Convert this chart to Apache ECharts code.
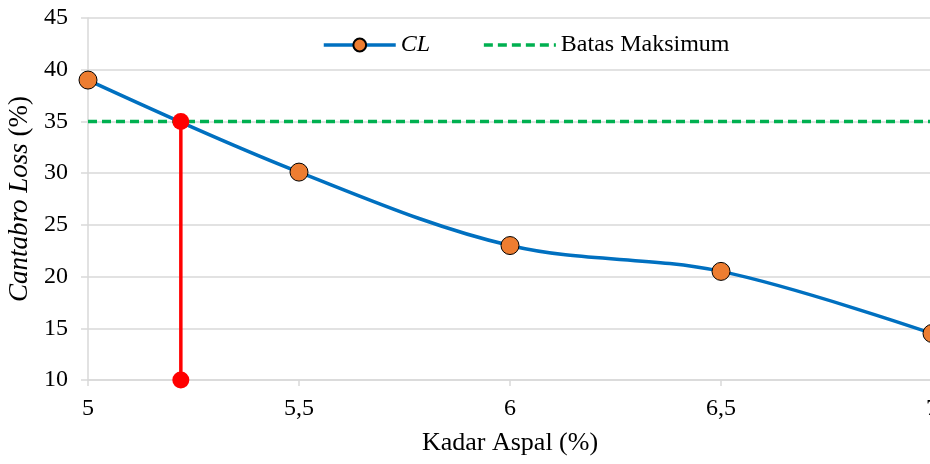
<!DOCTYPE html>
<html>
<head>
<meta charset="utf-8">
<script src="https://cdn.jsdelivr.net/npm/echarts@6/dist/echarts.min.js"></script>
<style>
  html, body { margin: 0; padding: 0; background: #fff; }
  #chart { width: 930px; height: 464px; }
</style>
</head>
<body>
<div id="chart"></div>
<script>
// Asphalt content (%) and measured Cantabro Loss (%)
const kadarAspal = [5, 5.5, 6, 6.5, 7];
const cantabroLoss = [39, 30.1, 23, 20.5, 14.5];
// Maximum allowed loss
const batasMaksimum = 35;
// Asphalt content where the curve crosses the limit
const kadarBatas = 5.22;
const yMin = 10;

const serif = '"Liberation Serif", "Times New Roman", serif';

const chart = echarts.init(document.getElementById('chart'));
chart.setOption({
  animation: false,
  backgroundColor: '#ffffff',
  textStyle: { fontFamily: serif },
  grid: { left: 88, right: -2, top: 18, bottom: 84, outerBoundsMode: 'none', containLabel: false },
  legend: {
    top: 28,
    left: 317,
    itemGap: 52,
    itemWidth: 72,
    itemHeight: 16,
    textStyle: { fontFamily: serif, fontSize: 24, color: '#000' },
    data: [
      { name: 'CL', textStyle: { fontStyle: 'italic' }, lineStyle: { width: 3.5 } },
      { name: 'Batas Maksimum', itemStyle: { opacity: 0 }, lineStyle: { width: 3.5 } }
    ]
  },
  xAxis: {
    type: 'value',
    min: 5, max: 7, interval: 0.5,
    name: 'Kadar Aspal (%)',
    nameLocation: 'middle',
    nameGap: 50,
    nameTextStyle: { fontFamily: serif, fontSize: 26, color: '#000' },
    axisLine: { show: true, lineStyle: { color: '#D9D9D9', width: 1.5 } },
    axisTick: { show: true, length: 6, lineStyle: { color: '#D9D9D9', width: 1.5 } },
    splitLine: { show: false },
    axisLabel: {
      fontFamily: serif, fontSize: 24, color: '#000', margin: 17,
      formatter: v => String(v).replace('.', ',')
    }
  },
  yAxis: {
    type: 'value',
    min: 10, max: 45, interval: 5,
    name: '{i|Cantabro Loss\u00a0}{n|(%)}',
    nameLocation: 'middle',
    nameGap: 40,
    nameRotate: 90,
    nameTextStyle: {
      rich: {
        i: { fontFamily: serif, fontSize: 27, fontStyle: 'italic', color: '#000' },
        n: { fontFamily: serif, fontSize: 27, color: '#000' }
      }
    },
    axisLine: { show: true, lineStyle: { color: '#D9D9D9', width: 1.5 } },
    axisTick: { show: true, length: 7, lineStyle: { color: '#D9D9D9', width: 1.5 } },
    splitLine: { show: true, lineStyle: { color: '#D9D9D9', width: 1.5 } },
    axisLabel: { fontFamily: serif, fontSize: 24, color: '#000', margin: 20 }
  },
  series: [
    {
      name: 'Batas Maksimum',
      type: 'line',
      data: [[5, batasMaksimum], [7, batasMaksimum]],
      symbol: 'none',
      lineStyle: { color: '#00B050', width: 3.5, type: [9, 5] },
      itemStyle: { color: '#00B050' },
      z: 2
    },
    {
      name: 'CL',
      type: 'line',
      data: kadarAspal.map((x, i) => [x, cantabroLoss[i]]),
      smooth: 0.35,
      symbol: 'circle',
      symbolSize: 18,
      lineStyle: { color: '#0070C0', width: 3.5 },
      itemStyle: { color: '#ED7D31', borderColor: '#000', borderWidth: 1 },
      z: 3
    },
    {
      name: 'Batas',
      type: 'line',
      data: [[kadarBatas, batasMaksimum], [kadarBatas, yMin]],
      symbol: 'circle',
      symbolSize: 17,
      lineStyle: { color: '#FF0000', width: 3.5 },
      itemStyle: { color: '#FF0000' },
      z: 4
    }
  ]
});
</script>
</body>
</html>
